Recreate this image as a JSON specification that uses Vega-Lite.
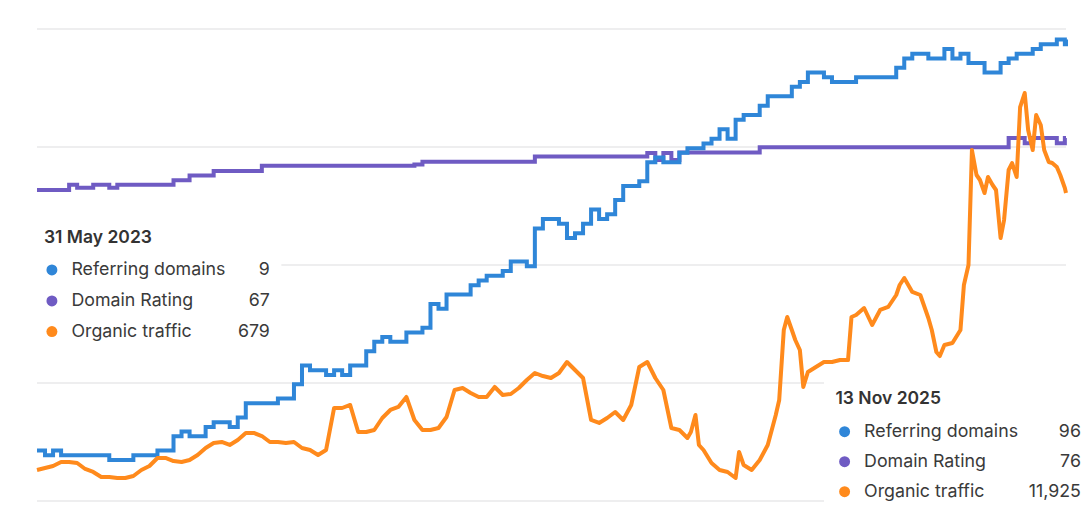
{
  "$schema": "https://vega.github.io/schema/vega-lite/v6.json",
  "autosize": {"type": "none"},
  "width": 1029,
  "height": 472,
  "padding": {"left": 37, "top": 29, "right": 20, "bottom": 16},
  "background": "white",
  "config": {"view": {"stroke": null}, "font": "Inter"},
  "datasets": {
    "weekly": [
      {"date":"2023-05-31","rd":9,"dr":67.0},{"date":"2023-06-07","rd":8,"dr":67.0},{"date":"2023-06-14","rd":9,"dr":67.0},{"date":"2023-06-21","rd":8,"dr":67.0},{"date":"2023-06-28","rd":8,"dr":67.9},
      {"date":"2023-07-05","rd":8,"dr":67.4},{"date":"2023-07-12","rd":8,"dr":67.4},{"date":"2023-07-19","rd":8,"dr":67.9},{"date":"2023-07-26","rd":8,"dr":67.9},{"date":"2023-08-02","rd":7,"dr":67.4},
      {"date":"2023-08-09","rd":7,"dr":67.9},{"date":"2023-08-16","rd":7,"dr":67.9},{"date":"2023-08-23","rd":8,"dr":67.9},{"date":"2023-08-30","rd":8,"dr":67.9},{"date":"2023-09-06","rd":8,"dr":67.9},
      {"date":"2023-09-13","rd":9,"dr":67.9},{"date":"2023-09-20","rd":9,"dr":67.9},{"date":"2023-09-27","rd":12,"dr":68.7},{"date":"2023-10-04","rd":13,"dr":68.7},{"date":"2023-10-11","rd":12,"dr":69.5},
      {"date":"2023-10-18","rd":12,"dr":69.5},{"date":"2023-10-25","rd":14,"dr":69.5},{"date":"2023-11-01","rd":15,"dr":70.3},{"date":"2023-11-08","rd":15,"dr":70.3},{"date":"2023-11-15","rd":14,"dr":70.3},
      {"date":"2023-11-22","rd":16,"dr":70.3},{"date":"2023-11-29","rd":19,"dr":70.3},{"date":"2023-12-06","rd":19,"dr":70.3},{"date":"2023-12-13","rd":19,"dr":71.2},{"date":"2023-12-20","rd":19,"dr":71.2},
      {"date":"2023-12-27","rd":20,"dr":71.2},{"date":"2024-01-03","rd":20,"dr":71.2},{"date":"2024-01-10","rd":23,"dr":71.2},{"date":"2024-01-17","rd":27,"dr":71.2},{"date":"2024-01-24","rd":26,"dr":71.2},
      {"date":"2024-01-31","rd":26,"dr":71.2},{"date":"2024-02-07","rd":25,"dr":71.2},{"date":"2024-02-14","rd":26,"dr":71.2},{"date":"2024-02-21","rd":25,"dr":71.2},{"date":"2024-02-28","rd":27,"dr":71.2},
      {"date":"2024-03-06","rd":27,"dr":71.2},{"date":"2024-03-13","rd":30,"dr":71.2},{"date":"2024-03-20","rd":32,"dr":71.2},{"date":"2024-03-27","rd":33,"dr":71.2},{"date":"2024-04-03","rd":32,"dr":71.2},
      {"date":"2024-04-10","rd":32,"dr":71.2},{"date":"2024-04-17","rd":34,"dr":71.2},{"date":"2024-04-24","rd":34,"dr":71.4},{"date":"2024-05-01","rd":35,"dr":71.9},{"date":"2024-05-08","rd":40,"dr":71.9},
      {"date":"2024-05-15","rd":39,"dr":71.9},{"date":"2024-05-22","rd":42,"dr":71.9},{"date":"2024-05-29","rd":42,"dr":71.9},{"date":"2024-06-05","rd":42,"dr":71.9},{"date":"2024-06-12","rd":44,"dr":71.9},
      {"date":"2024-06-19","rd":45,"dr":71.9},{"date":"2024-06-26","rd":46,"dr":71.9},{"date":"2024-07-03","rd":46,"dr":71.9},{"date":"2024-07-10","rd":47,"dr":71.9},{"date":"2024-07-17","rd":49,"dr":71.9},
      {"date":"2024-07-24","rd":49,"dr":71.9},{"date":"2024-07-31","rd":48,"dr":71.9},{"date":"2024-08-07","rd":56,"dr":72.8},{"date":"2024-08-14","rd":58,"dr":72.8},{"date":"2024-08-21","rd":58,"dr":72.8},
      {"date":"2024-08-28","rd":57,"dr":72.8},{"date":"2024-09-04","rd":54,"dr":72.8},{"date":"2024-09-11","rd":55,"dr":72.8},{"date":"2024-09-18","rd":57,"dr":72.8},{"date":"2024-09-25","rd":60,"dr":72.8},
      {"date":"2024-10-02","rd":58,"dr":72.8},{"date":"2024-10-09","rd":59,"dr":72.8},{"date":"2024-10-16","rd":62,"dr":72.8},{"date":"2024-10-23","rd":65,"dr":72.8},{"date":"2024-10-30","rd":65,"dr":72.8},
      {"date":"2024-11-06","rd":66,"dr":72.8},{"date":"2024-11-13","rd":70,"dr":73.4},{"date":"2024-11-20","rd":71,"dr":72.2},{"date":"2024-11-27","rd":70,"dr":73.4},{"date":"2024-12-04","rd":70,"dr":72.2},
      {"date":"2024-12-11","rd":72,"dr":73.5},{"date":"2024-12-18","rd":73,"dr":73.5},{"date":"2024-12-25","rd":73,"dr":73.5},{"date":"2025-01-01","rd":74,"dr":73.5},{"date":"2025-01-08","rd":75,"dr":73.5},
      {"date":"2025-01-15","rd":77,"dr":73.5},{"date":"2025-01-22","rd":75,"dr":73.5},{"date":"2025-01-29","rd":79,"dr":73.5},{"date":"2025-02-05","rd":80,"dr":73.5},{"date":"2025-02-12","rd":80,"dr":73.5},
      {"date":"2025-02-19","rd":82,"dr":74.4},{"date":"2025-02-26","rd":84,"dr":74.4},{"date":"2025-03-05","rd":84,"dr":74.4},{"date":"2025-03-12","rd":84,"dr":74.4},{"date":"2025-03-19","rd":86,"dr":74.4},
      {"date":"2025-03-26","rd":87,"dr":74.4},{"date":"2025-04-02","rd":89,"dr":74.4},{"date":"2025-04-09","rd":89,"dr":74.4},{"date":"2025-04-16","rd":88,"dr":74.4},{"date":"2025-04-23","rd":87,"dr":74.4},
      {"date":"2025-04-30","rd":87,"dr":74.4},{"date":"2025-05-07","rd":87,"dr":74.4},{"date":"2025-05-14","rd":88,"dr":74.4},{"date":"2025-05-21","rd":88,"dr":74.4},{"date":"2025-05-28","rd":88,"dr":74.4},
      {"date":"2025-06-04","rd":88,"dr":74.4},{"date":"2025-06-11","rd":88,"dr":74.4},{"date":"2025-06-18","rd":90,"dr":74.4},{"date":"2025-06-25","rd":92,"dr":74.4},{"date":"2025-07-02","rd":93,"dr":74.4},
      {"date":"2025-07-09","rd":93,"dr":74.4},{"date":"2025-07-16","rd":92,"dr":74.4},{"date":"2025-07-23","rd":92,"dr":74.4},{"date":"2025-07-30","rd":94,"dr":74.4},{"date":"2025-08-06","rd":92,"dr":74.4},
      {"date":"2025-08-13","rd":93,"dr":74.4},{"date":"2025-08-20","rd":91,"dr":74.4},{"date":"2025-08-27","rd":91,"dr":74.4},{"date":"2025-09-03","rd":89,"dr":74.4},{"date":"2025-09-10","rd":89,"dr":74.4},
      {"date":"2025-09-17","rd":91,"dr":74.4},{"date":"2025-09-24","rd":92,"dr":76.0},{"date":"2025-10-01","rd":93,"dr":76.0},{"date":"2025-10-08","rd":93,"dr":75.1},{"date":"2025-10-15","rd":94,"dr":76.0},
      {"date":"2025-10-22","rd":95,"dr":76.0},{"date":"2025-10-29","rd":95,"dr":76.0},{"date":"2025-11-05","rd":96,"dr":75.1},{"date":"2025-11-12","rd":95,"dr":76.0},{"date":"2025-11-13","rd":96,"dr":76.0}
    ],
    "traffic": [
      {"date":"2023-05-31","ot":679},{"date":"2023-06-07","ot":760},{"date":"2023-06-14","ot":841},{"date":"2023-06-21","ot":1004},{"date":"2023-06-28","ot":1004},
      {"date":"2023-07-05","ot":963},{"date":"2023-07-12","ot":720},{"date":"2023-07-19","ot":598},{"date":"2023-07-26","ot":395},{"date":"2023-08-02","ot":395},
      {"date":"2023-08-09","ot":354},{"date":"2023-08-16","ot":354},{"date":"2023-08-23","ot":435},{"date":"2023-08-30","ot":679},{"date":"2023-09-06","ot":841},
      {"date":"2023-09-13","ot":1166},{"date":"2023-09-20","ot":1166},{"date":"2023-09-27","ot":1044},{"date":"2023-10-04","ot":1004},{"date":"2023-10-11","ot":1085},
      {"date":"2023-10-18","ot":1288},{"date":"2023-10-25","ot":1572},{"date":"2023-11-01","ot":1775},{"date":"2023-11-08","ot":1816},{"date":"2023-11-15","ot":1694},
      {"date":"2023-11-22","ot":1897},{"date":"2023-11-29","ot":2181},{"date":"2023-12-06","ot":2181},{"date":"2023-12-13","ot":2059},{"date":"2023-12-20","ot":1816},
      {"date":"2023-12-27","ot":1816},{"date":"2024-01-03","ot":1775},{"date":"2024-01-10","ot":1816},{"date":"2024-01-17","ot":1572},{"date":"2024-01-24","ot":1491},
      {"date":"2024-01-31","ot":1288},{"date":"2024-02-07","ot":1491},{"date":"2024-02-14","ot":3196},{"date":"2024-02-21","ot":3196},{"date":"2024-02-28","ot":3318},
      {"date":"2024-03-06","ot":2222},{"date":"2024-03-13","ot":2222},{"date":"2024-03-20","ot":2303},{"date":"2024-03-27","ot":2790},{"date":"2024-04-03","ot":3115},
      {"date":"2024-04-10","ot":3237},{"date":"2024-04-17","ot":3643},{"date":"2024-04-24","ot":2709},{"date":"2024-05-01","ot":2303},{"date":"2024-05-08","ot":2303},
      {"date":"2024-05-15","ot":2384},{"date":"2024-05-22","ot":2831},{"date":"2024-05-29","ot":3927},{"date":"2024-06-05","ot":4008},{"date":"2024-06-12","ot":3805},
      {"date":"2024-06-19","ot":3643},{"date":"2024-06-26","ot":3643},{"date":"2024-07-03","ot":4049},{"date":"2024-07-10","ot":3724},{"date":"2024-07-17","ot":3765},
      {"date":"2024-07-24","ot":4008},{"date":"2024-07-31","ot":4333},{"date":"2024-08-07","ot":4617},{"date":"2024-08-14","ot":4495},{"date":"2024-08-21","ot":4414},
      {"date":"2024-08-28","ot":4617},{"date":"2024-09-04","ot":5064},{"date":"2024-09-11","ot":4739},{"date":"2024-09-18","ot":4414},{"date":"2024-09-25","ot":2709},
      {"date":"2024-10-02","ot":2587},{"date":"2024-10-09","ot":2790},{"date":"2024-10-16","ot":3034},{"date":"2024-10-23","ot":2709},{"date":"2024-10-30","ot":3318},
      {"date":"2024-11-06","ot":4861},{"date":"2024-11-13","ot":5064},{"date":"2024-11-20","ot":4414},{"date":"2024-11-27","ot":3927},{"date":"2024-12-04","ot":2384},
      {"date":"2024-12-11","ot":2303},{"date":"2024-12-18","ot":1978},{"date":"2024-12-21","ot":2222},{"date":"2024-12-25","ot":2912},{"date":"2024-12-28","ot":1694},
      {"date":"2025-01-01","ot":1491},{"date":"2025-01-08","ot":963},{"date":"2025-01-15","ot":679},{"date":"2025-01-22","ot":598},{"date":"2025-01-29","ot":354},
      {"date":"2025-02-01","ot":1410},{"date":"2025-02-05","ot":882},{"date":"2025-02-12","ot":679},{"date":"2025-02-19","ot":1085},{"date":"2025-02-26","ot":1694},
      {"date":"2025-03-05","ot":2912},{"date":"2025-03-08","ot":3521},{"date":"2025-03-12","ot":6363},{"date":"2025-03-15","ot":6891},{"date":"2025-03-19","ot":6363},
      {"date":"2025-03-22","ot":5957},{"date":"2025-03-26","ot":5551},{"date":"2025-03-29","ot":4049},{"date":"2025-04-02","ot":4658},{"date":"2025-04-09","ot":4861},
      {"date":"2025-04-16","ot":5064},{"date":"2025-04-23","ot":5064},{"date":"2025-04-30","ot":5145},{"date":"2025-05-07","ot":5145},{"date":"2025-05-10","ot":6891},
      {"date":"2025-05-14","ot":6972},{"date":"2025-05-21","ot":7256},{"date":"2025-05-28","ot":6566},{"date":"2025-06-04","ot":7175},{"date":"2025-06-11","ot":7297},
      {"date":"2025-06-18","ot":7784},{"date":"2025-06-21","ot":8190},{"date":"2025-06-25","ot":8474},{"date":"2025-07-02","ot":7906},{"date":"2025-07-09","ot":7784},
      {"date":"2025-07-16","ot":6850},{"date":"2025-07-19","ot":6363},{"date":"2025-07-23","ot":5470},{"date":"2025-07-26","ot":5307},{"date":"2025-07-30","ot":5754},
      {"date":"2025-08-06","ot":5835},{"date":"2025-08-13","ot":6363},{"date":"2025-08-16","ot":8190},{"date":"2025-08-20","ot":9002},{"date":"2025-08-23","ot":13671},
      {"date":"2025-08-27","ot":12656},{"date":"2025-08-30","ot":12453},{"date":"2025-09-03","ot":11925},{"date":"2025-09-06","ot":12575},{"date":"2025-09-10","ot":12250},
      {"date":"2025-09-13","ot":12047},{"date":"2025-09-17","ot":10098},{"date":"2025-09-20","ot":10829},{"date":"2025-09-24","ot":12859},{"date":"2025-09-27","ot":13143},
      {"date":"2025-10-01","ot":12575},{"date":"2025-10-04","ot":15417},{"date":"2025-10-08","ot":15985},{"date":"2025-10-11","ot":14483},{"date":"2025-10-15","ot":13671},
      {"date":"2025-10-18","ot":15092},{"date":"2025-10-22","ot":14686},{"date":"2025-10-25","ot":13671},{"date":"2025-10-29","ot":13183},{"date":"2025-11-01","ot":13143},
      {"date":"2025-11-05","ot":12981},{"date":"2025-11-08","ot":12656},{"date":"2025-11-12","ot":12128},{"date":"2025-11-13","ot":11925}
    ],
    "grid": [{"g":0},{"g":1},{"g":2},{"g":3},{"g":4}],
    "boxes": [
      {"date":"2023-05-24","date2":"2023-12-30","g":2.42,"g2":1.28},
      {"date":"2025-04-16","date2":"2025-12-31","g":1.045,"g2":-0.3}
    ],
    "notes": [
      {"kind":"title","date":"2023-06-06","g":2.229,"label":"31 May 2023"},
      {"kind":"dot","date":"2023-06-13","g":1.958,"series":"Referring domains"},
      {"kind":"dot","date":"2023-06-13","g":1.695,"series":"Domain Rating"},
      {"kind":"dot","date":"2023-06-13","g":1.436,"series":"Organic traffic"},
      {"kind":"name","date":"2023-06-30","g":1.958,"label":"Referring domains"},
      {"kind":"name","date":"2023-06-30","g":1.695,"label":"Domain Rating"},
      {"kind":"name","date":"2023-06-30","g":1.436,"label":"Organic traffic"},
      {"kind":"value","date":"2023-12-20","g":1.958,"label":"9"},
      {"kind":"value","date":"2023-12-20","g":1.695,"label":"67"},
      {"kind":"value","date":"2023-12-20","g":1.436,"label":"679"},
      {"kind":"title","date":"2025-04-26","g":0.864,"label":"13 Nov 2025"},
      {"kind":"dot","date":"2025-05-04","g":0.587,"series":"Referring domains"},
      {"kind":"dot","date":"2025-05-04","g":0.333,"series":"Domain Rating"},
      {"kind":"dot","date":"2025-05-04","g":0.079,"series":"Organic traffic"},
      {"kind":"name","date":"2025-05-21","g":0.587,"label":"Referring domains"},
      {"kind":"name","date":"2025-05-21","g":0.333,"label":"Domain Rating"},
      {"kind":"name","date":"2025-05-21","g":0.079,"label":"Organic traffic"},
      {"kind":"value","date":"2025-11-26","g":0.587,"label":"96"},
      {"kind":"value","date":"2025-11-26","g":0.333,"label":"76"},
      {"kind":"value","date":"2025-11-26","g":0.079,"label":"11,925"}
    ]
  },
  "layer": [
    {
      "data": {"name": "grid"},
      "mark": {"type": "rule", "color": "#e8e8ea", "strokeWidth": 1.5},
      "encoding": {
        "y": {"field": "g", "type": "quantitative", "scale": {"domain": [0, 4], "nice": false, "zero": false}, "axis": null}
      }
    },
    {
      "data": {"name": "weekly"},
      "mark": {"type": "line", "color": "#6f5bc3", "strokeWidth": 4, "interpolate": "step-after"},
      "encoding": {
        "x": {"field": "date", "type": "temporal", "scale": {"domain": [1685491200000, 1762992000000]}, "axis": null},
        "y": {"field": "dr", "type": "quantitative", "scale": {"domain": [13.19, 94.85], "nice": false, "zero": false}, "axis": null}
      }
    },
    {
      "data": {"name": "weekly"},
      "mark": {"type": "line", "color": "#2f86d8", "strokeWidth": 4, "interpolate": "step-after"},
      "encoding": {
        "x": {"field": "date", "type": "temporal", "scale": {"domain": [1685491200000, 1762992000000]}, "axis": null},
        "y": {"field": "rd", "type": "quantitative", "scale": {"domain": [-1.69, 98.22], "nice": false, "zero": false}, "axis": null}
      }
    },
    {
      "data": {"name": "traffic"},
      "mark": {"type": "line", "color": "#ff8a1c", "strokeWidth": 4, "strokeJoin": "round"},
      "encoding": {
        "x": {"field": "date", "type": "temporal", "scale": {"domain": [1685491200000, 1762992000000]}, "axis": null},
        "y": {"field": "ot", "type": "quantitative", "scale": {"domain": [-580, 18584], "nice": false, "zero": false}, "axis": null}
      }
    },
    {
      "data": {"name": "boxes"},
      "mark": {"type": "rect", "color": "white", "opacity": 1},
      "encoding": {
        "x": {"field": "date", "type": "temporal", "scale": {"domain": [1685491200000, 1762992000000]}, "axis": null},
        "x2": {"field": "date2"},
        "y": {"field": "g", "type": "quantitative", "scale": {"domain": [0, 4], "nice": false, "zero": false}, "axis": null},
        "y2": {"field": "g2"}
      }
    },
    {
      "data": {"name": "notes"},
      "transform": [{"filter": "datum.kind === 'dot'"}],
      "mark": {"type": "point", "shape": "circle", "filled": true, "size": 120, "opacity": 1},
      "encoding": {
        "x": {"field": "date", "type": "temporal", "scale": {"domain": [1685491200000, 1762992000000]}, "axis": null},
        "y": {"field": "g", "type": "quantitative", "scale": {"domain": [0, 4], "nice": false, "zero": false}, "axis": null},
        "color": {"field": "series", "type": "nominal", "scale": {"domain": ["Referring domains", "Domain Rating", "Organic traffic"], "range": ["#2f86d8", "#6f5bc3", "#ff8a1c"]}, "legend": null}
      }
    },
    {
      "data": {"name": "notes"},
      "transform": [{"filter": "datum.kind === 'title'"}],
      "mark": {"type": "text", "align": "left", "baseline": "middle", "font": "Inter", "fontSize": 17.5, "fontWeight": 600, "color": "#333333"},
      "encoding": {
        "x": {"field": "date", "type": "temporal", "scale": {"domain": [1685491200000, 1762992000000]}, "axis": null},
        "y": {"field": "g", "type": "quantitative", "scale": {"domain": [0, 4], "nice": false, "zero": false}, "axis": null},
        "text": {"field": "label"}
      }
    },
    {
      "data": {"name": "notes"},
      "transform": [{"filter": "datum.kind === 'name'"}],
      "mark": {"type": "text", "align": "left", "baseline": "middle", "font": "Inter", "fontSize": 17.8, "color": "#3a3a3a"},
      "encoding": {
        "x": {"field": "date", "type": "temporal", "scale": {"domain": [1685491200000, 1762992000000]}, "axis": null},
        "y": {"field": "g", "type": "quantitative", "scale": {"domain": [0, 4], "nice": false, "zero": false}, "axis": null},
        "text": {"field": "label"}
      }
    },
    {
      "data": {"name": "notes"},
      "transform": [{"filter": "datum.kind === 'value'"}],
      "mark": {"type": "text", "align": "right", "baseline": "middle", "font": "Inter", "fontSize": 17.8, "color": "#3a3a3a"},
      "encoding": {
        "x": {"field": "date", "type": "temporal", "scale": {"domain": [1685491200000, 1762992000000]}, "axis": null},
        "y": {"field": "g", "type": "quantitative", "scale": {"domain": [0, 4], "nice": false, "zero": false}, "axis": null},
        "text": {"field": "label"}
      }
    }
  ],
  "resolve": {"scale": {"y": "independent", "color": "independent"}}
}
